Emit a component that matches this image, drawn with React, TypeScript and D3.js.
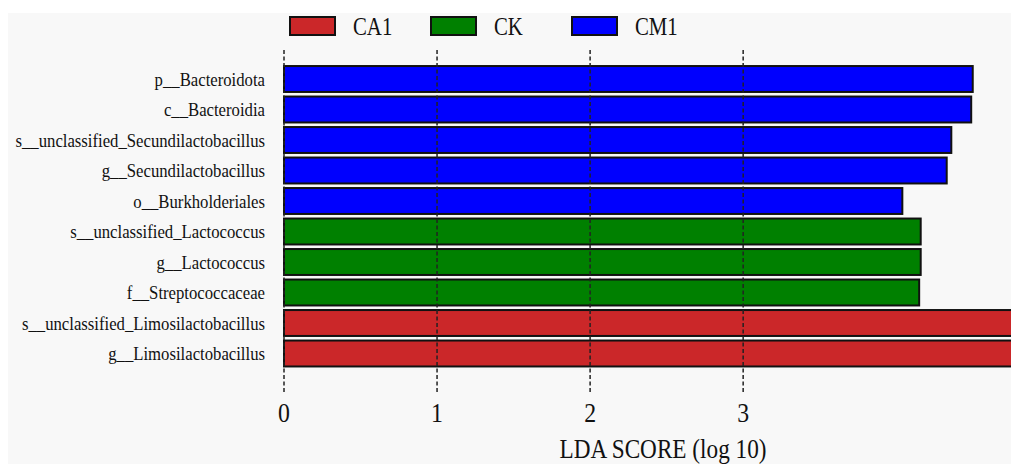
import React from "react";
import * as d3 from "d3";

const categories = [
  "p__Bacteroidota",
  "c__Bacteroidia",
  "s__unclassified_Secundilactobacillus",
  "g__Secundilactobacillus",
  "o__Burkholderiales",
  "s__unclassified_Lactococcus",
  "g__Lactococcus",
  "f__Streptococcaceae",
  "s__unclassified_Limosilactobacillus",
  "g__Limosilactobacillus",
];
const ldaScores = [4.5, 4.49, 4.36, 4.33, 4.04, 4.16, 4.16, 4.15, 4.92, 4.92];
const groupsOfBars = ["CM1", "CM1", "CM1", "CM1", "CM1", "CK", "CK", "CK", "CA1", "CA1"];
const legendGroups = ["CA1", "CK", "CM1"];
const groupColors = ["#cb2729", "#008000", "#0000fe"];
const tickValues = [0, 1, 2, 3];

const W = 1011;
const H = 464;
const FONT = "'Liberation Serif', 'Times New Roman', serif";

export default function App() {
  const x = d3.scaleLinear().domain([0, 4.75]).range([284, 1011]);
  const y = d3
    .scaleBand<string>()
    .domain(categories)
    .range([63.75, 368.75])
    .paddingInner(0.15)
    .paddingOuter(0.075);
  const color = d3.scaleOrdinal<string, string>().domain(legendGroups).range(groupColors);
  const legendX = d3.scalePoint<string>().domain(legendGroups).range([290, 572]);

  return (
    <svg
      width={W}
      height={H}
      style={{ position: "absolute", left: 0, top: 0, display: "block" }}
      fontFamily={FONT}
    >
      <defs>
        <clipPath id="plotclip">
          <rect x={0} y={0} width={W} height={H} />
        </clipPath>
      </defs>
      <rect x={0} y={0} width={W} height={H} fill="#ffffff" />
      <rect x={8} y={13} width={W - 8} height={H - 13} fill="#f8f8f8" />

      {/* legend */}
      {legendGroups.map((g) => {
        const lx = legendX(g)!;
        return (
          <g key={g}>
            <rect x={lx} y={17} width={45} height={18} fill={color(g)} stroke="#111" strokeWidth={2} />
            <text
              transform={`translate(${lx + 63},35) scale(0.8,1)`}
              fontSize={26}
              fill="#111"
            >
              {g}
            </text>
          </g>
        );
      })}

      {/* bars */}
      <g clipPath="url(#plotclip)">
        {categories.map((c, i) => (
          <rect
            key={c}
            x={x(0)}
            y={y(c)}
            width={x(ldaScores[i]) - x(0)}
            height={y.bandwidth()}
            fill={color(groupsOfBars[i])}
            stroke="#111"
            strokeWidth={2}
          />
        ))}
      </g>

      {/* category labels */}
      {categories.map((c) => (
        <text
          key={c}
          transform={`translate(265,${y(c)! + y.bandwidth() / 2 + 6.5}) scale(0.88,1)`}
          textAnchor="end"
          fontSize={19}
          fill="#111"
        >
          {c}
        </text>
      ))}

      {/* dashed grid / ticks */}
      {tickValues.map((t) => (
        <line
          key={t}
          x1={x(t)}
          x2={x(t)}
          y1={50}
          y2={394}
          stroke="#222"
          strokeWidth={1.5}
          strokeDasharray="4,2.5"
        />
      ))}
      {tickValues.map((t) => (
        <text
          key={"l" + t}
          transform={`translate(${x(t)},422) scale(0.85,1)`}
          textAnchor="middle"
          fontSize={28}
          fill="#111"
        >
          {t}
        </text>
      ))}
      <text
        transform={`translate(663,458) scale(0.86,1)`}
        textAnchor="middle"
        fontSize={27}
        fill="#111"
      >
        LDA SCORE (log 10)
      </text>
    </svg>
  );
}
